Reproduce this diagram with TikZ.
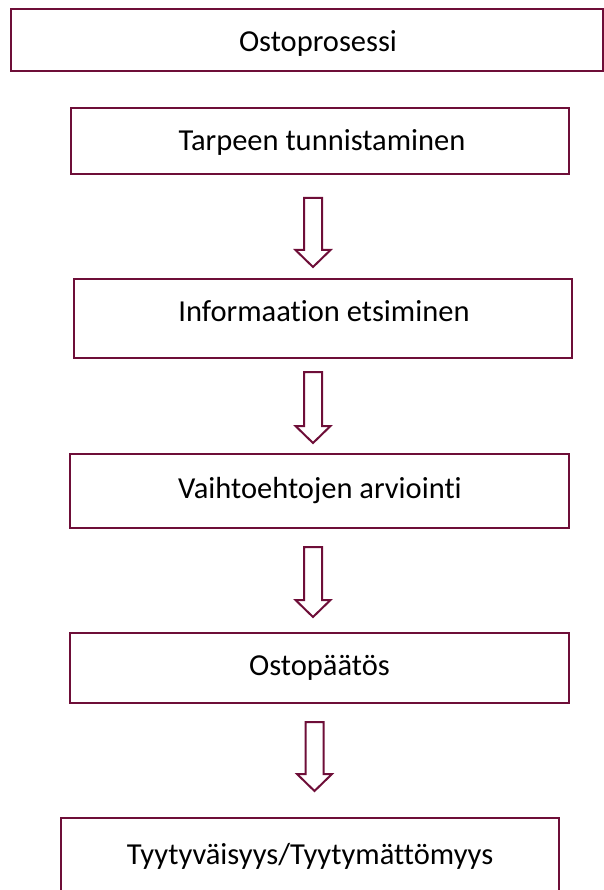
\documentclass[tikz,border=0pt]{standalone}
\usepackage{fontspec}
\setmainfont[Ligatures=NoCommon]{Carlito}
\usetikzlibrary{calc}
\definecolor{wine}{RGB}{110,14,56}
\tikzset{
  stage/.style={draw=wine, line width=2.5pt, inner sep=0pt},
  stagetext/.style={font=\fontsize{30.5}{36}\selectfont, inner sep=0pt, anchor=base},
  hollow/.style={draw=wine, line width=2pt, line join=miter, fill=white},
}
% block arrow pointing down, from #1 (top of shaft) to #2 (tip)
\newcommand\downblock[2]{%
  \draw[hollow] ($(#1)+(-9,0)$) -- ($(#2)+(-9,-17)$) -- ($(#2)+(-17.5,-17)$) -- (#2)
    -- ($(#2)+(17.5,-17)$) -- ($(#2)+(9,-17)$) -- ($(#1)+(9,0)$) -- cycle;}
\begin{document}
\begin{tikzpicture}[x=1pt, y=-1pt]
        \useasboundingbox (0,0) rectangle (604,890);
        \clip (0,0) rectangle (604,890);
        % boxes
        \node[stage, minimum width=592, minimum height=62] (b1) at (307,40) {};
        \node[stage, minimum width=498, minimum height=66] (b2) at (320,141) {};
        \node[stage, minimum width=498, minimum height=79] (b3) at (323,318.5) {};
        \node[stage, minimum width=499, minimum height=74] (b4) at (319.5,491) {};
        \node[stage, minimum width=499, minimum height=70] (b5) at (319.5,668) {};
        \node[stage, minimum width=498, minimum height=82] (b6) at (310,859) {};
        % texts
        \node[stagetext] (t1) at (318,52) {Ostoprosessi};
        \node[stagetext] (t2) at (322,151) {Tarpeen tunnistaminen};
        \node[stagetext] (t3) at (324,321) {Informaation etsiminen};
        \node[stagetext] (t4) at (320,498) {Vaihtoehtojen arviointi};
        \node[stagetext] (t5) at (319.5,675) {Ostopäätös};
        \node[stagetext] (t6) at (310,864) {Tyytyväisyys/Tyytymättömyys};
        % arrows
        \coordinate (top1) at (313,198);   \coordinate (tip1) at (313,267);
        \coordinate (top2) at (313,372);   \coordinate (tip2) at (313,443);
        \coordinate (top3) at (313,547);   \coordinate (tip3) at (313,617);
        \coordinate (top4) at (314.5,722); \coordinate (tip4) at (314.5,791);
        \foreach \i in {1,...,4}
        \downblock{top\i}{tip\i};
      \end{tikzpicture}
\end{document}
